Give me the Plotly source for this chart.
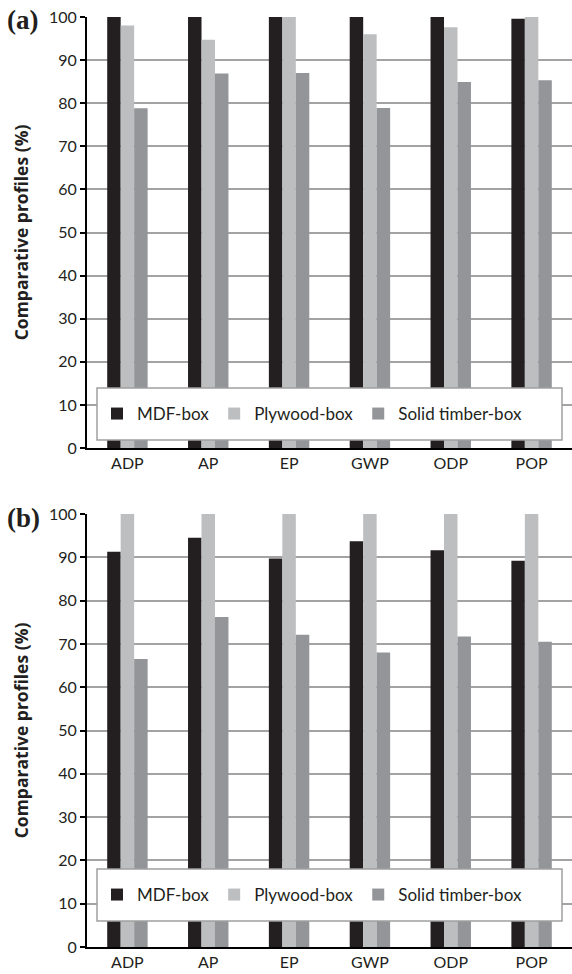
import plotly.graph_objects as go
from plotly.subplots import make_subplots

categories = ["ADP", "AP", "EP", "GWP", "ODP", "POP"]
series_names = ["MDF-box", "Plywood-box", "Solid timber-box"]
colors = ["#231f20", "#bcbec0", "#939598"]

# Panel (a)
a_mdf = [100, 100, 100, 100, 100, 99.6]
a_plywood = [98.0, 94.7, 100, 96.0, 97.6, 100]
a_solid = [78.8, 86.9, 87.0, 78.9, 84.9, 85.3]

# Panel (b)
b_mdf = [91.3, 94.5, 89.7, 93.7, 91.6, 89.2]
b_plywood = [100, 100, 100, 100, 100, 100]
b_solid = [66.5, 76.2, 72.1, 68.0, 71.7, 70.5]

y_ticks = [0, 10, 20, 30, 40, 50, 60, 70, 80, 90, 100]

W, H = 572, 974
ml, mr, mt, mb = 87, 0, 17, 27
ph = H - mt - mb
pw = W - ml - mr

fig = make_subplots(rows=2, cols=1, vertical_spacing=0.0)

a_vals = [a_mdf, a_plywood, a_solid]
b_vals = [b_mdf, b_plywood, b_solid]

for i, name in enumerate(series_names):
    fig.add_trace(go.Bar(x=categories, y=a_vals[i], name=name, marker_color=colors[i],
                         marker_line_width=0, legend="legend"), row=1, col=1)
for i, name in enumerate(series_names):
    fig.add_trace(go.Bar(x=categories, y=b_vals[i], name=name, marker_color=colors[i],
                         marker_line_width=0, legend="legend2"), row=2, col=1)

def py(ypix):
    return (H - mb - ypix) / ph

def px(xpix):
    return (xpix - ml) / pw

dom_a = [py(448), 1.0]
dom_b = [0.0, py(514)]

font_main = "Lato, 'Open Sans', sans-serif"

axis_common = dict(range=[0, 100], tickvals=y_ticks, showgrid=True, gridcolor="#a3a3a3",
                   gridwidth=1.5, showline=True, linecolor="#000000", linewidth=2,
                   ticks="outside", ticklen=5, tickcolor="#000000", tickwidth=1.5,
                   tickfont=dict(family=font_main, size=16, color="#231f20"),
                   zeroline=False, fixedrange=True,
                   title=dict(text="<b>Comparative profiles (%)</b>",
                              font=dict(family="'Open Sans', sans-serif", size=17.5, color="#231f20"),
                              standoff=16))
fig.update_layout(
    yaxis=dict(domain=dom_a, **axis_common),
    yaxis2=dict(domain=dom_b, **axis_common),
)
xaxis_common = dict(showline=True, linecolor="#000000", linewidth=2, ticks="",
                    tickfont=dict(family=font_main, size=16, color="#231f20"),
                    showgrid=False)
fig.update_xaxes(**xaxis_common)

legend_common = dict(orientation="h", bgcolor="rgba(0,0,0,0)", borderwidth=0,
                     font=dict(family=font_main, size=17, color="#231f20"),
                     xanchor="left", yanchor="middle", itemwidth=30,
                     traceorder="normal")
fig.update_layout(
    legend=dict(x=px(97), y=py(414), **legend_common),
    legend2=dict(x=px(97), y=py(895), **legend_common),
)

# legend frames
for (y0, y1) in [(388, 440), (869, 921)]:
    fig.add_shape(type="rect", xref="paper", yref="paper", x0=px(97), x1=px(562),
                  y0=py(y1), y1=py(y0), fillcolor="#ffffff",
                  line=dict(color="#a0a0a0", width=1.5), layer="above")

fig.add_annotation(text="<b>(a)</b>", xref="paper", yref="paper", x=px(5), y=py(20),
                   xanchor="left", yanchor="middle", showarrow=False,
                   font=dict(family="'Liberation Serif', serif", size=27, color="#231f20"))
fig.add_annotation(text="<b>(b)</b>", xref="paper", yref="paper", x=px(5), y=py(518),
                   xanchor="left", yanchor="middle", showarrow=False,
                   font=dict(family="'Liberation Serif', serif", size=27, color="#231f20"))

fig.update_layout(
    width=W, height=H,
    margin=dict(l=ml, r=mr, t=mt, b=mb),
    barmode="group", bargap=0.5, bargroupgap=0.0,
    plot_bgcolor="#ffffff", paper_bgcolor="#ffffff",
    showlegend=True,
)

fig.write_html("out.html")
